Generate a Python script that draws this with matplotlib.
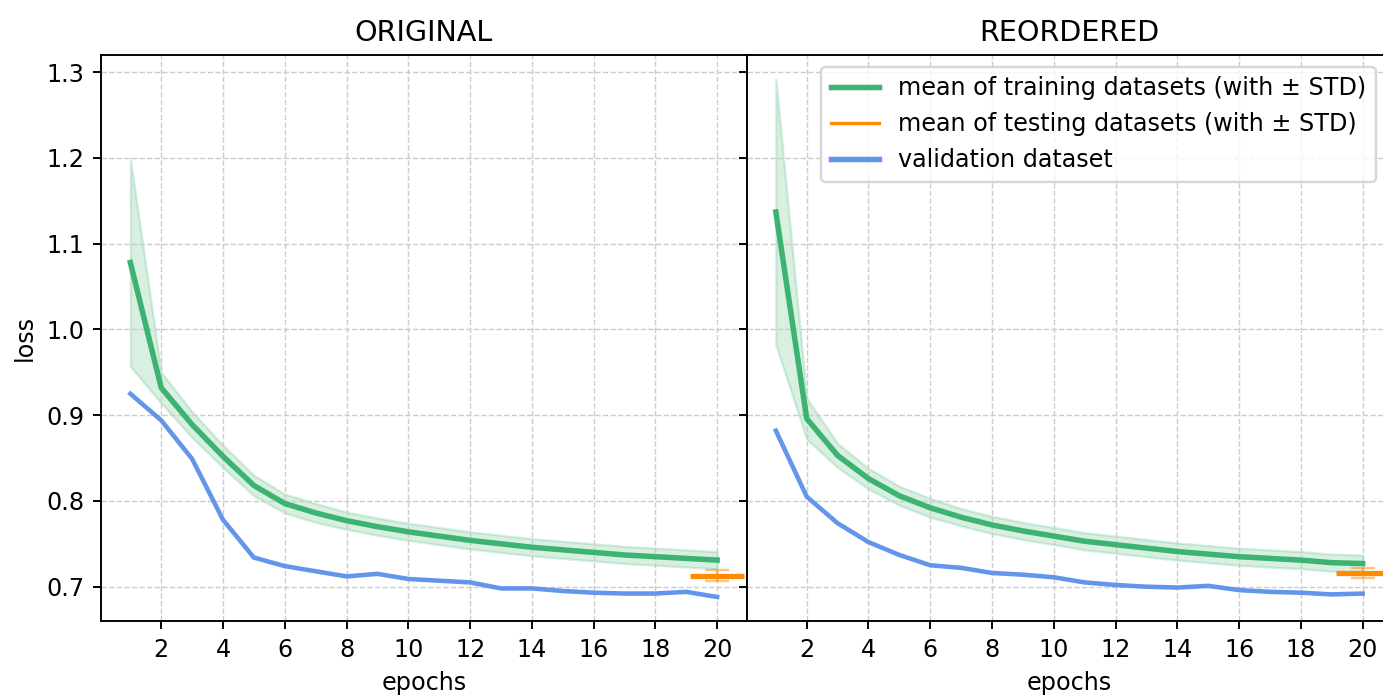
import numpy as np
import matplotlib
matplotlib.use("Agg")
import matplotlib.pyplot as plt
from matplotlib.lines import Line2D

epochs = np.arange(1, 21)

# ORIGINAL
orig_train = [1.078, 0.932, 0.889, 0.852, 0.818, 0.797, 0.786, 0.777, 0.770, 0.764,
              0.759, 0.754, 0.750, 0.746, 0.743, 0.740, 0.737, 0.735, 0.733, 0.731]
orig_train_std = [0.121, 0.018, 0.015, 0.013, 0.012, 0.011, 0.011, 0.010, 0.010, 0.010,
                  0.010, 0.010, 0.010, 0.010, 0.010, 0.010, 0.010, 0.010, 0.010, 0.010]
orig_val = [0.925, 0.894, 0.849, 0.778, 0.734, 0.724, 0.718, 0.712, 0.715, 0.709,
            0.707, 0.705, 0.698, 0.698, 0.695, 0.693, 0.692, 0.692, 0.694, 0.688]
orig_test_mean = 0.713
orig_test_std = 0.0065

# REORDERED
reord_train = [1.137, 0.896, 0.853, 0.826, 0.806, 0.792, 0.781, 0.772, 0.765, 0.759,
               0.753, 0.749, 0.745, 0.741, 0.738, 0.735, 0.733, 0.731, 0.728, 0.727]
reord_train_std = [0.155, 0.024, 0.014, 0.012, 0.011, 0.011, 0.010, 0.010, 0.010, 0.010,
                   0.010, 0.010, 0.010, 0.010, 0.010, 0.010, 0.010, 0.010, 0.010, 0.010]
reord_val = [0.882, 0.805, 0.774, 0.752, 0.737, 0.725, 0.722, 0.716, 0.714, 0.711,
             0.705, 0.702, 0.700, 0.699, 0.701, 0.696, 0.694, 0.693, 0.691, 0.692]
reord_test_mean = 0.716
reord_test_std = 0.006

green = "mediumseagreen"
orange = "darkorange"
blue = "cornflowerblue"

DPI = 172
W, H = 1383, 699
fig = plt.figure(figsize=(W / DPI, H / DPI), dpi=DPI)
ax1 = fig.add_axes([101 / W, 78 / H, 645.5 / W, 566 / H])
ax2 = fig.add_axes([746.5 / W, 78 / H, 645.5 / W, 566 / H], sharey=ax1)

panels = [(ax1, "ORIGINAL", orig_train, orig_train_std, orig_val, orig_test_mean, orig_test_std),
          (ax2, "REORDERED", reord_train, reord_train_std, reord_val, reord_test_mean, reord_test_std)]

for ax, title, tr, sd, val, tm, ts in panels:
    tr = np.array(tr)
    sd = np.array(sd)
    ax.fill_between(epochs, tr - sd, tr + sd, color=green, alpha=0.2, lw=1)
    ax.plot(epochs, tr, color=green, lw=2.3)
    ax.plot(epochs, val, color=blue, lw=1.9)
    ax.errorbar(20, tm, yerr=ts, fmt="none", ecolor=orange, alpha=0.5,
                capsize=5, elinewidth=1, capthick=1)
    ax.plot(20, tm, marker="_", ms=23, mew=2.2, color=orange)
    ax.set_title(title)
    ax.set_xlabel("epochs")
    ax.set_xticks(np.arange(2, 21, 2))
    ax.grid(True, linestyle="--", color="#cccccc", lw=0.6)

ax1.set_ylabel("loss")
ax1.set_ylim(0.66, 1.32)
ax1.set_yticks([0.7, 0.8, 0.9, 1.0, 1.1, 1.2, 1.3])
plt.setp(ax2.get_yticklabels(), visible=False)

handles = [Line2D([], [], color=green, lw=2.3),
           Line2D([], [], color=orange, lw=1.4),
           Line2D([], [], color=blue, lw=2.3)]
labels = ["mean of training datasets (with \u00b1 STD)",
          "mean of testing datasets (with \u00b1 STD)",
          "validation dataset"]
ax2.legend(handles, labels, loc="upper right", bbox_to_anchor=(0.993, 1.0))

fig.savefig("out.png", dpi=DPI)
